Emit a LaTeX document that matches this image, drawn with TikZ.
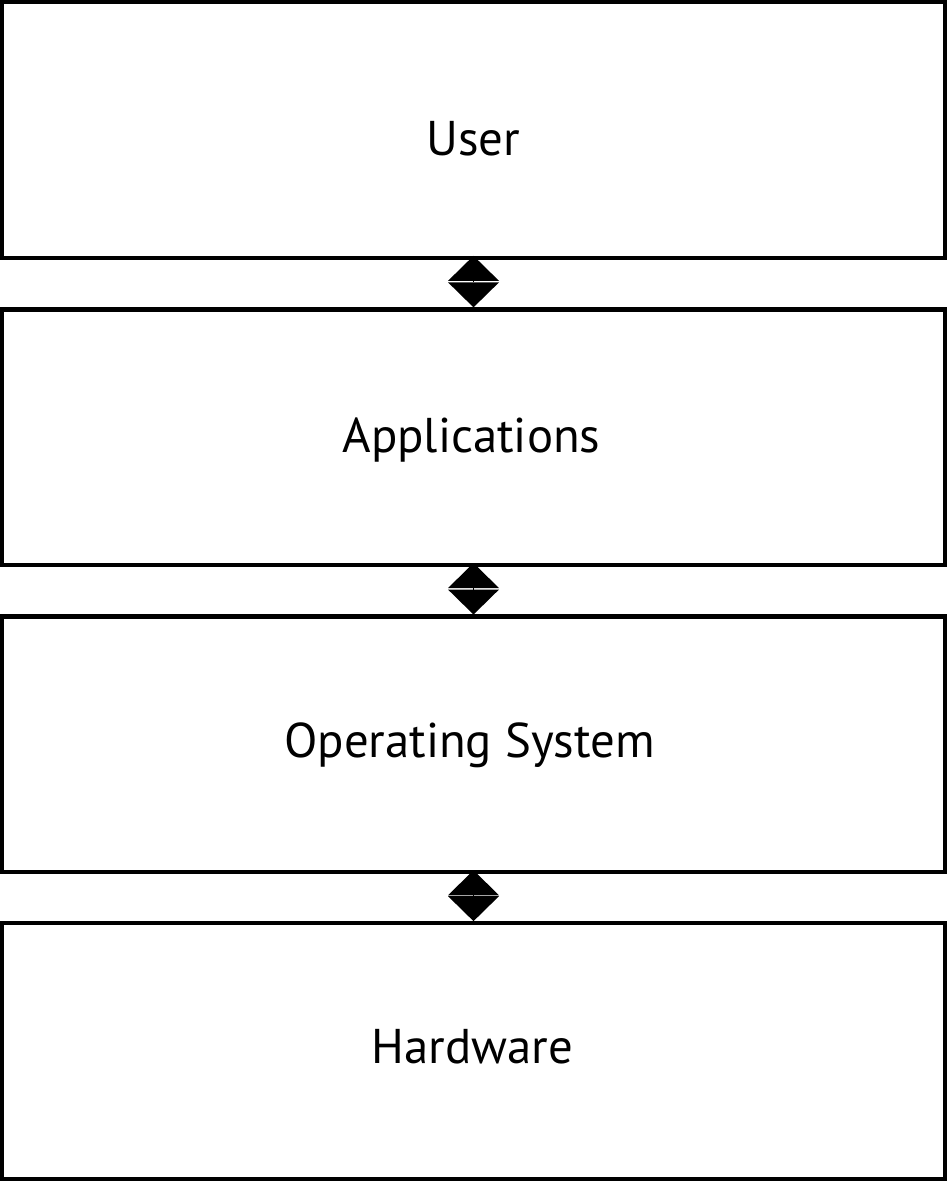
\documentclass[tikz,border=0pt]{standalone}
\usepackage{fontspec}
\setmainfont{PT Sans}
\usetikzlibrary{arrows.meta}
\begin{document}
\begin{tikzpicture}[x=1pt,y=1pt,
  layerbox/.style={draw=black,line width=4.3pt,minimum width=942.7pt,minimum height=255.7pt,inner sep=0pt,outer sep=0pt,fill=white},
  layertext/.style={anchor=base,inner sep=0pt,font=\fontsize{48.8}{58}\selectfont},
  conn/.style={line width=1pt,shorten <=-2pt,shorten >=2pt,
    {Triangle[width=51pt,length=25pt,line width=0pt]}-{Triangle[width=51pt,length=25pt,line width=0pt]}}]
\useasboundingbox (0,0) rectangle (947,-1181);
\node[layerbox] (b1) at (473.5,-130) {};
\node[layerbox] (b2) at (473.5,-437.2) {};
\node[layerbox] (b3) at (473.5,-744.4) {};
\node[layerbox] (b4) at (473.5,-1051) {};
\node[layertext] (t1) at (473.5,-155) {User};
\node[layertext] (t2) at (471.5,-452) {Applications};
\node[layertext] (t3) at (469.5,-757) {Operating System};
\node[layertext] (t4) at (472.5,-1063) {Hardware};
\draw[conn] (b1.south) -- (b2.north);
\draw[conn] (b2.south) -- (b3.north);
\draw[conn] (b3.south) -- (b4.north);
\end{tikzpicture}
\end{document}
